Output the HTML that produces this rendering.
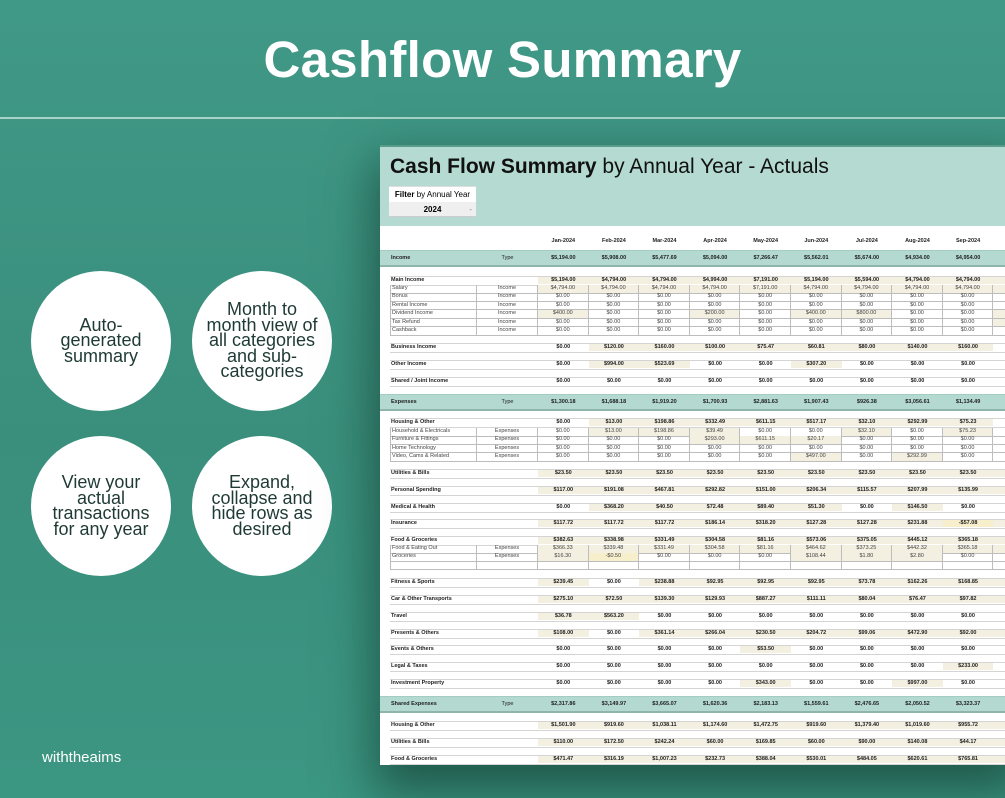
<!DOCTYPE html>
<html><head><meta charset="utf-8"><style>
*{margin:0;padding:0;box-sizing:border-box}
body{width:1005px;height:798px;overflow:hidden;position:relative;background:linear-gradient(to bottom,#409886 0%,#3a8f7c 55%,#3b9682 100%);font-family:"Liberation Sans",sans-serif}
.title{position:absolute;left:0;width:1005px;top:30px;text-align:center;color:#fff;font-size:51px;font-weight:bold;letter-spacing:0.3px}
.hl{position:absolute;left:0;top:117px;width:1005px;height:2px;background:#a9d3c8}
.c{position:absolute;width:140px;height:140px;border-radius:50%;background:#fff;display:flex;align-items:center;justify-content:center;text-align:center;color:#1f3a34;font-size:18px;line-height:15.5px}
.brand{position:absolute;left:42px;top:749px;color:#fff;font-size:15px}
.sheet{position:absolute;left:380px;top:145px;width:640px;height:620px;background:#fff;box-shadow:0 22px 45px 6px rgba(15,50,40,.6)}
.hd{position:absolute;left:380px;top:145px;width:625px;height:81px;background:#b4dad1;border-top:2px solid #5a9c8c}
.st{position:absolute;left:390px;top:155px;font-size:21px;color:#111;white-space:nowrap}
.f1{position:absolute;left:389px;top:186px;width:87px;height:16px;background:#fff;font-size:8px;text-align:center;line-height:16px;border-top:1px solid #ddd}
.f2{position:absolute;left:389px;top:202px;width:87px;height:15px;background:#efefef;font-size:8px;font-weight:bold;text-align:center;line-height:15px;border-bottom:1px solid #ccc}
.mh{position:absolute;left:390px;top:238px;width:615px;display:flex;font-size:5.5px;font-weight:bold;color:#222}
.mh span{width:50.6px;flex:none;text-align:center}
.r{position:absolute;left:390px;width:615px;display:flex;font-size:5.5px;color:#222;white-space:nowrap;overflow:hidden}
.r>*{flex:none;text-align:center;font-style:normal}
.r .l{width:87px;text-align:left;padding-left:1px}
.r .t{width:61px}
.r span{width:50.6px}
.s{height:10px;border-top:1.5px solid #d4d4d4;border-bottom:1.5px solid #d4d4d4;font-weight:bold}
.s>*{line-height:7px;height:7px}
.u{height:8.5px}
.u>*{height:8.5px;line-height:7.5px;border-right:1px solid #bdbdbd;border-bottom:1px solid #bdbdbd;color:#444}
.u .l{border-left:1px solid #bdbdbd}
.h{background:#f3efe1}
.y{background:#f7eecb}
.b{left:380px;width:625px;height:17px;background:#b3d9d0;border-top:1px solid #a3ccc2;border-bottom:2px solid #8fb5ab;padding-left:10px;font-weight:bold}
.b>*{line-height:14px}
.b .t{font-weight:normal}
</style></head><body>
<div class="title">Cashflow Summary</div>
<div class="hl"></div>
<div class="c" style="left:31px;top:271px">Auto-<br>generated<br>summary</div>
<div class="c" style="left:192px;top:271px">Month to<br>month view of<br>all categories<br>and sub-<br>categories</div>
<div class="c" style="left:31px;top:436px">View your<br>actual<br>transactions<br>for any year</div>
<div class="c" style="left:192px;top:436px">Expand,<br>collapse and<br>hide rows as<br>desired</div>
<div class="brand">withtheaims</div>

<div class="sheet"></div>
<div class="hd"></div>
<div class="st"><b>Cash Flow Summary</b> by Annual Year - Actuals</div>
<div class="f1"><b>Filter</b> by Annual Year</div>
<div class="f2">2024 <span style="position:absolute;right:4px;font-weight:normal;color:#888">-</span></div>

<div class="mh"><span style="width:148px"></span><span>Jan-2024</span><span>Feb-2024</span><span>Mar-2024</span><span>Apr-2024</span><span>May-2024</span><span>Jun-2024</span><span>Jul-2024</span><span>Aug-2024</span><span>Sep-2024</span></div>

<div class="r b" style="top:250px"><b class="l">Income</b><i class="t">Type</i><span>$5,194.00</span><span>$5,908.00</span><span>$5,477.69</span><span>$5,094.00</span><span>$7,266.47</span><span>$5,562.01</span><span>$5,674.00</span><span>$4,934.00</span><span>$4,954.00</span></div>

<div class="r s" style="top:276px"><b class="l">Main Income</b><i class="t"></i><span class="h">$5,194.00</span><span class="h">$4,794.00</span><span class="h">$4,794.00</span><span class="h">$4,994.00</span><span class="h">$7,191.00</span><span class="h">$5,194.00</span><span class="h">$5,594.00</span><span class="h">$4,794.00</span><span class="h">$4,794.00</span><span class="h"></span></div>
<div class="r u" style="top:285px"><i class="l">Salary</i><i class="t">Income</i><span class="h">$4,794.00</span><span class="h">$4,794.00</span><span class="h">$4,794.00</span><span class="h">$4,794.00</span><span class="h">$7,191.00</span><span class="h">$4,794.00</span><span class="h">$4,794.00</span><span class="h">$4,794.00</span><span class="h">$4,794.00</span><span class="h"></span></div>
<div class="r u" style="top:293.4px"><i class="l">Bonus</i><i class="t">Income</i><span>$0.00</span><span>$0.00</span><span>$0.00</span><span>$0.00</span><span>$0.00</span><span>$0.00</span><span>$0.00</span><span>$0.00</span><span>$0.00</span><span></span></div>
<div class="r u" style="top:301.8px"><i class="l">Rental Income</i><i class="t">Income</i><span>$0.00</span><span>$0.00</span><span>$0.00</span><span>$0.00</span><span>$0.00</span><span>$0.00</span><span>$0.00</span><span>$0.00</span><span>$0.00</span><span></span></div>
<div class="r u" style="top:310.2px"><i class="l">Dividend Income</i><i class="t">Income</i><span class="h">$400.00</span><span>$0.00</span><span>$0.00</span><span class="h">$200.00</span><span>$0.00</span><span class="h">$400.00</span><span class="h">$800.00</span><span>$0.00</span><span>$0.00</span><span class="h"></span></div>
<div class="r u" style="top:318.6px"><i class="l">Tax Refund</i><i class="t">Income</i><span>$0.00</span><span>$0.00</span><span>$0.00</span><span>$0.00</span><span>$0.00</span><span>$0.00</span><span>$0.00</span><span>$0.00</span><span>$0.00</span><span class="h"></span></div>
<div class="r u" style="top:327px"><i class="l">Cashback</i><i class="t">Income</i><span>$0.00</span><span>$0.00</span><span>$0.00</span><span>$0.00</span><span>$0.00</span><span>$0.00</span><span>$0.00</span><span>$0.00</span><span>$0.00</span><span></span></div>

<div class="r s" style="top:343px"><b class="l">Business Income</b><i class="t"></i><span>$0.00</span><span class="h">$120.00</span><span class="h">$160.00</span><span class="h">$100.00</span><span class="h">$75.47</span><span class="h">$60.81</span><span class="h">$80.00</span><span class="h">$140.00</span><span class="h">$160.00</span><span></span></div>
<div class="r s" style="top:360px"><b class="l">Other Income</b><i class="t"></i><span>$0.00</span><span class="h">$994.00</span><span class="h">$523.69</span><span>$0.00</span><span>$0.00</span><span class="h">$307.20</span><span>$0.00</span><span>$0.00</span><span>$0.00</span><span></span></div>
<div class="r s" style="top:377px"><b class="l">Shared / Joint Income</b><i class="t"></i><span>$0.00</span><span>$0.00</span><span>$0.00</span><span>$0.00</span><span>$0.00</span><span>$0.00</span><span>$0.00</span><span>$0.00</span><span>$0.00</span><span></span></div>

<div class="r b" style="top:394px"><b class="l">Expenses</b><i class="t">Type</i><span>$1,300.18</span><span>$1,688.18</span><span>$1,919.20</span><span>$1,700.93</span><span>$2,881.63</span><span>$1,907.43</span><span>$926.38</span><span>$3,056.61</span><span>$1,134.49</span></div>

<div class="r s" style="top:418px"><b class="l">Housing &amp; Other</b><i class="t"></i><span>$0.00</span><span class="h">$13.00</span><span class="h">$198.86</span><span class="h">$332.49</span><span class="h">$611.15</span><span class="h">$517.17</span><span class="h">$32.10</span><span class="h">$292.99</span><span class="h">$75.23</span><span></span></div>
<div class="r u" style="top:428px"><i class="l">Household &amp; Electricals</i><i class="t">Expenses</i><span>$0.00</span><span class="h">$13.00</span><span class="h">$198.86</span><span class="h">$39.49</span><span>$0.00</span><span>$0.00</span><span class="h">$32.10</span><span>$0.00</span><span class="h">$75.23</span><span></span></div>
<div class="r u" style="top:436.4px"><i class="l">Furniture &amp; Fittings</i><i class="t">Expenses</i><span>$0.00</span><span>$0.00</span><span>$0.00</span><span class="h">$293.00</span><span class="h">$611.15</span><span class="h">$20.17</span><span>$0.00</span><span>$0.00</span><span>$0.00</span><span></span></div>
<div class="r u" style="top:444.8px"><i class="l">Home Technology</i><i class="t">Expenses</i><span>$0.00</span><span>$0.00</span><span>$0.00</span><span>$0.00</span><span>$0.00</span><span>$0.00</span><span>$0.00</span><span>$0.00</span><span>$0.00</span><span></span></div>
<div class="r u" style="top:453.2px"><i class="l">Video, Cams &amp; Related</i><i class="t">Expenses</i><span>$0.00</span><span>$0.00</span><span>$0.00</span><span>$0.00</span><span>$0.00</span><span class="h">$497.00</span><span>$0.00</span><span class="h">$292.99</span><span>$0.00</span><span></span></div>

<div class="r s" style="top:469px"><b class="l">Utilities &amp; Bills</b><i class="t"></i><span class="h">$23.50</span><span class="h">$23.50</span><span class="h">$23.50</span><span class="h">$23.50</span><span class="h">$23.50</span><span class="h">$23.50</span><span class="h">$23.50</span><span class="h">$23.50</span><span class="h">$23.50</span><span class="h"></span></div>
<div class="r s" style="top:486px"><b class="l">Personal Spending</b><i class="t"></i><span class="h">$117.00</span><span class="h">$191.08</span><span class="h">$467.81</span><span class="h">$292.82</span><span class="h">$151.00</span><span class="h">$206.34</span><span class="h">$115.57</span><span class="h">$207.99</span><span class="h">$135.99</span><span class="h"></span></div>
<div class="r s" style="top:503px"><b class="l">Medical &amp; Health</b><i class="t"></i><span>$0.00</span><span class="h">$368.20</span><span class="h">$40.50</span><span class="h">$72.48</span><span class="h">$89.40</span><span class="h">$51.30</span><span>$0.00</span><span class="h">$146.50</span><span>$0.00</span><span></span></div>
<div class="r s" style="top:519px"><b class="l">Insurance</b><i class="t"></i><span class="h">$117.72</span><span class="h">$117.72</span><span class="h">$117.72</span><span class="h">$186.14</span><span class="h">$318.20</span><span class="h">$127.28</span><span class="h">$127.28</span><span class="h">$231.88</span><span class="y">-$57.08</span><span class="h"></span></div>
<div class="r s" style="top:536px"><b class="l">Food &amp; Groceries</b><i class="t"></i><span class="h">$382.63</span><span class="h">$338.98</span><span class="h">$331.49</span><span class="h">$304.58</span><span class="h">$81.16</span><span class="h">$573.06</span><span class="h">$375.05</span><span class="h">$445.12</span><span class="h">$365.18</span><span class="h"></span></div>
<div class="r u" style="top:545px"><i class="l">Food &amp; Eating Out</i><i class="t">Expenses</i><span class="h">$366.33</span><span class="h">$339.48</span><span class="h">$331.49</span><span class="h">$304.58</span><span class="h">$81.16</span><span class="h">$464.62</span><span class="h">$373.25</span><span class="h">$442.32</span><span class="h">$365.18</span><span class="h"></span></div>
<div class="r u" style="top:553.4px"><i class="l">Groceries</i><i class="t">Expenses</i><span class="h">$16.30</span><span class="y">-$0.50</span><span>$0.00</span><span>$0.00</span><span>$0.00</span><span class="h">$108.44</span><span class="h">$1.80</span><span class="h">$2.80</span><span>$0.00</span><span></span></div>
<div class="r u" style="top:561.8px"><i class="l"></i><i class="t"></i><span></span><span></span><span></span><span></span><span></span><span></span><span></span><span></span><span></span><span></span></div>

<div class="r s" style="top:578px"><b class="l">Fitness &amp; Sports</b><i class="t"></i><span class="h">$239.45</span><span>$0.00</span><span class="h">$238.88</span><span class="h">$92.95</span><span class="h">$92.95</span><span class="h">$92.95</span><span class="h">$73.78</span><span class="h">$162.26</span><span class="h">$168.85</span><span class="h"></span></div>
<div class="r s" style="top:595px"><b class="l">Car &amp; Other Transports</b><i class="t"></i><span class="h">$275.10</span><span class="h">$72.50</span><span class="h">$139.30</span><span class="h">$129.93</span><span class="h">$887.27</span><span class="h">$111.11</span><span class="h">$80.04</span><span class="h">$76.47</span><span class="h">$97.82</span><span class="h"></span></div>
<div class="r s" style="top:612px"><b class="l">Travel</b><i class="t"></i><span class="h">$36.78</span><span class="h">$563.20</span><span>$0.00</span><span>$0.00</span><span>$0.00</span><span>$0.00</span><span>$0.00</span><span>$0.00</span><span>$0.00</span><span></span></div>
<div class="r s" style="top:629px"><b class="l">Presents &amp; Others</b><i class="t"></i><span class="h">$108.00</span><span>$0.00</span><span class="h">$361.14</span><span class="h">$266.04</span><span class="h">$230.50</span><span class="h">$204.72</span><span class="h">$99.06</span><span class="h">$472.90</span><span class="h">$92.00</span><span class="h"></span></div>
<div class="r s" style="top:645px"><b class="l">Events &amp; Others</b><i class="t"></i><span>$0.00</span><span>$0.00</span><span>$0.00</span><span>$0.00</span><span class="h">$53.50</span><span>$0.00</span><span>$0.00</span><span>$0.00</span><span>$0.00</span><span></span></div>
<div class="r s" style="top:662px"><b class="l">Legal &amp; Taxes</b><i class="t"></i><span>$0.00</span><span>$0.00</span><span>$0.00</span><span>$0.00</span><span>$0.00</span><span>$0.00</span><span>$0.00</span><span>$0.00</span><span class="h">$233.00</span><span></span></div>
<div class="r s" style="top:679px"><b class="l">Investment Property</b><i class="t"></i><span>$0.00</span><span>$0.00</span><span>$0.00</span><span>$0.00</span><span class="h">$343.00</span><span>$0.00</span><span>$0.00</span><span class="h">$997.00</span><span>$0.00</span><span></span></div>

<div class="r b" style="top:696px"><b class="l">Shared Expenses</b><i class="t">Type</i><span>$2,317.86</span><span>$3,149.97</span><span>$3,665.07</span><span>$1,620.36</span><span>$2,183.13</span><span>$1,559.61</span><span>$2,476.65</span><span>$2,050.52</span><span>$3,323.37</span></div>

<div class="r s" style="top:721px"><b class="l">Housing &amp; Other</b><i class="t"></i><span class="h">$1,501.90</span><span class="h">$919.60</span><span class="h">$1,038.11</span><span class="h">$1,174.60</span><span class="h">$1,472.75</span><span class="h">$919.60</span><span class="h">$1,379.40</span><span class="h">$1,019.60</span><span class="h">$955.72</span><span class="h"></span></div>
<div class="r s" style="top:738px"><b class="l">Utilities &amp; Bills</b><i class="t"></i><span class="h">$110.00</span><span class="h">$172.50</span><span class="h">$242.24</span><span class="h">$60.00</span><span class="h">$169.85</span><span class="h">$60.00</span><span class="h">$90.00</span><span class="h">$140.08</span><span class="h">$44.17</span><span class="h"></span></div>
<div class="r s" style="top:755px;height:10px"><b class="l">Food &amp; Groceries</b><i class="t"></i><span class="h">$471.47</span><span class="h">$316.19</span><span class="h">$1,007.23</span><span class="h">$232.73</span><span class="h">$388.04</span><span class="h">$530.01</span><span class="h">$484.05</span><span class="h">$620.61</span><span class="h">$765.81</span><span class="h"></span></div>
</body></html>
